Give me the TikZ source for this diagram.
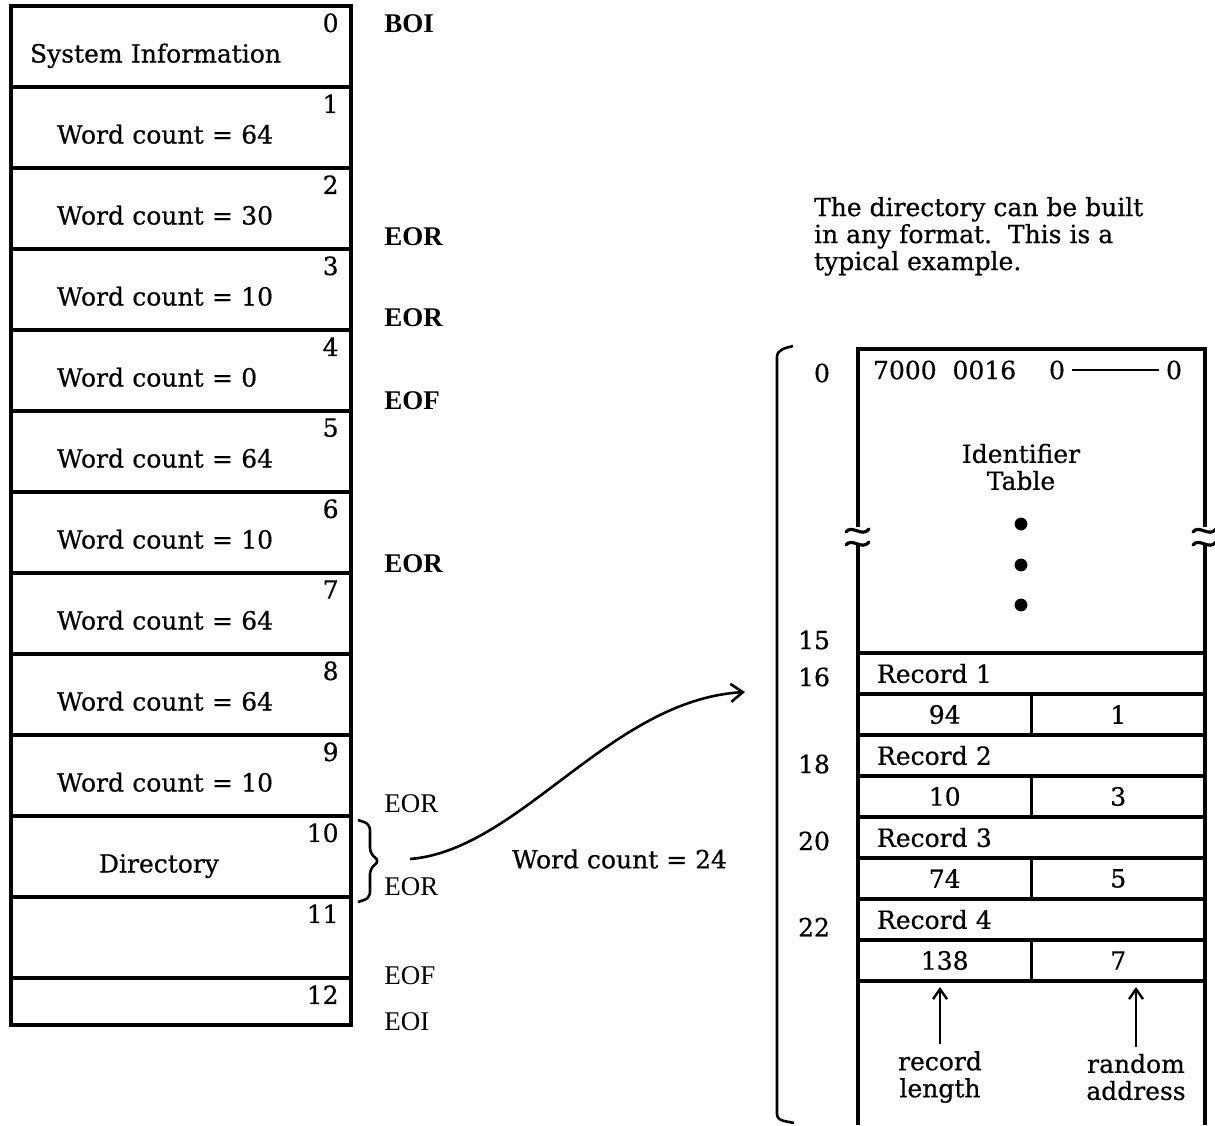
\documentclass[tikz,border=0pt]{standalone}
\usepackage{fontspec}
\setmainfont[FakeBold=0.6]{DejaVu Serif}
\newfontfamily\tagfont{Liberation Serif}
\usetikzlibrary{arrows.meta, positioning}

\begin{document}
\begin{tikzpicture}[
            x=0.5pt, y=-0.5pt,
            font=\fontsize{12.5}{13.5}\selectfont,
            cell/.style    ={rectangle, draw, line width=1.8pt, outer sep=0pt, minimum width=170pt,
                             minimum height=40.5pt, text width=124pt, inner xsep=23pt, align=left,
                             text height=16pt, text depth=0pt},
            num/.style     ={anchor=north east, inner xsep=6pt, inner ysep=3.5pt},
            tag/.style     ={anchor=west, inner sep=0pt, font={\fontsize{13.5}{14}\tagfont\bfseries}},
            tagthin/.style ={anchor=west, inner sep=0pt, font={\fontsize{13.5}{14}\tagfont}},
            recrow/.style  ={rectangle, draw, line width=1.8pt, outer sep=0pt, minimum height=20.5pt,
                             text width=154.5pt, inner xsep=9.5pt, inner ysep=0pt, align=left},
            valcell/.style ={rectangle, draw, line width=1.8pt, outer sep=0pt, minimum width=86.75pt,
                             minimum height=20.5pt, inner ysep=0pt},
            frame/.style   ={line width=1.8pt},
            brk/.style     ={line width=1.6pt, line cap=round},
            curvearr/.style={-{Straight Barb[length=6pt, width=9pt]}, line width=1.3pt},
            uparr/.style   ={-{Straight Barb[length=5pt, width=7pt]}, line width=1.2pt, shorten >=3pt}
        ]
            \useasboundingbox (0,0) rectangle (1215,1125);

            % --- Left column: the records of the file ---
            \node[cell, anchor=north west, text width=151pt, inner xsep=9.5pt,
                  label={[num]north east:0}] (c0) at (11,6) {System Information};
            \node[cell, below=0pt of c0,  label={[num]north east:1}]  (c1)  {Word count = 64};
            \node[cell, below=0pt of c1,  label={[num]north east:2}]  (c2)  {Word count = 30};
            \node[cell, below=0pt of c2,  label={[num]north east:3}]  (c3)  {Word count = 10};
            \node[cell, below=0pt of c3,  label={[num]north east:4}]  (c4)  {Word count = 0};
            \node[cell, below=0pt of c4,  label={[num]north east:5}]  (c5)  {Word count = 64};
            \node[cell, below=0pt of c5,  label={[num]north east:6}]  (c6)  {Word count = 10};
            \node[cell, below=0pt of c6,  label={[num]north east:7}]  (c7)  {Word count = 64};
            \node[cell, below=0pt of c7,  label={[num]north east:8}]  (c8)  {Word count = 64};
            \node[cell, below=0pt of c8,  label={[num]north east:9}]  (c9)  {Word count = 10};
            \node[cell, below=0pt of c9,  text width=82pt, inner xsep=44pt,
                  label={[num]north east:10}] (c10) {Directory};
            \node[cell, below=0pt of c10, label={[num]north east:11}] (c11) {};
            \node[cell, below=0pt of c11, minimum height=23.5pt,
                  label={[num]north east:12}] (c12) {};

            % --- Marks right of the column ---
            \node[tag]     (boi)  at (384,24)   {BOI};
            \node[tag]     (eor1) at (384,237)  {EOR};
            \node[tag]     (eor2) at (384,318)  {EOR};
            \node[tag]     (eof1) at (384,401)  {EOF};
            \node[tag]     (eor3) at (384,564)  {EOR};
            \node[tagthin] (eor4) at (384,804)  {EOR};
            \node[tagthin] (eor5) at (384,887)  {EOR};
            \node[tagthin] (eof2) at (384,976)  {EOF};
            \node[tagthin] (eoi)  at (384,1022) {EOI};

            % --- Brace on the directory record and the curve to the table ---
            \draw[line width=1.3pt, rounded corners=3pt]
                ([xshift=3.5pt, yshift=-2pt]c10.north east) -- ++(6pt,-2pt) -- ++(0,-15pt)
                -- ++(5pt,-3.5pt) -- ++(-5pt,-3.5pt) -- ++(0,-15pt) -- ++(-6pt,-2pt);
            \coordinate (dirtip) at (410,859);
            \coordinate (rectarget) at (745,692);
            \draw[curvearr] (dirtip) .. controls (520,850) and (610,700) .. (rectarget);
            \node[anchor=west] (wc24) at (505,859) {Word count = 24};

            % --- Note ---
            \node[anchor=north west, align=left] (note) at (807,190)
                {The directory can be built\\in any format.\ \ This is a\\typical example.};

            % --- Right column: the directory ---
            \node[rectangle, draw, frame, outer sep=0pt, minimum width=173.5pt,
                  minimum height=152pt, anchor=north west] (idtab) at (858,349) {};
            \node[recrow, below=0pt of idtab] (rec1) {Record 1};
            \node[valcell, anchor=north west] (v1l) at (rec1.south west) {94};
            \node[valcell, right=0pt of v1l]  (v1r) {1};
            \node[recrow, anchor=north west]  (rec2) at (v1l.south west) {Record 2};
            \node[valcell, anchor=north west] (v2l) at (rec2.south west) {10};
            \node[valcell, right=0pt of v2l]  (v2r) {3};
            \node[recrow, anchor=north west]  (rec3) at (v2l.south west) {Record 3};
            \node[valcell, anchor=north west] (v3l) at (rec3.south west) {74};
            \node[valcell, right=0pt of v3l]  (v3r) {5};
            \node[recrow, anchor=north west]  (rec4) at (v3l.south west) {Record 4};
            \node[valcell, anchor=north west] (v4l) at (rec4.south west) {138};
            \node[valcell, right=0pt of v4l]  (v4r) {7};

            \coordinate (floor) at (0,1125);
            \draw[frame] (v4l.south west) -- (v4l.south west |- floor);
            \draw[frame] (v4r.south east) -- (v4r.south east |- floor);

            % contents of the identifier table
            \node[anchor=west] (hdr) at (866,370) {7000\ \ 0016};
            \node (zl) at (1057,370) {0};
            \node (zr) at (1174,370) {0};
            \draw[line width=1.2pt] (zl) -- (zr);
            \node[align=center] (idtitle) at (1021,467) {Identifier\\Table};
            \fill (1021,524) circle (3.2pt);
            \fill (1021,565) circle (3.2pt);
            \fill (1021,605) circle (3.2pt);

            % break marks
            \fill[white] (850,527) rectangle (868,545);
            \draw[brk] (846,532) .. controls (852,524) and (862,538) .. (869,529);
            \draw[brk] (846,545) .. controls (852,537) and (862,551) .. (869,542);
            \fill[white] (1197,527) rectangle (1215,545);
            \draw[brk] (1193,532) .. controls (1199,524) and (1209,538) .. (1216,529);
            \draw[brk] (1193,545) .. controls (1199,537) and (1209,551) .. (1216,542);

            % word numbers
            \node[anchor=east] (n0)  at (837,373) {0};
            \node[anchor=east] (n15) at (837,640) {15};
            \node[anchor=east] (n16) at (837,677) {16};
            \node[anchor=east] (n18) at (837,764) {18};
            \node[anchor=east] (n20) at (837,841) {20};
            \node[anchor=east] (n22) at (837,927) {22};

            % bracket
            \draw[line width=1.3pt] (793,346) to[out=195, in=90] (777,357) -- (777,1114)
                to[out=-90, in=165] (794,1123);

            % field names
            \node[align=center] (rlen)  at (940,1077)  {record\\length};
            \node[align=center] (raddr) at (1136,1077) {random\\address};
            \draw[uparr] (rlen.north)  -- (rlen.north |- v4l.south);
            \draw[uparr] (raddr.north) -- (raddr.north |- v4r.south);

        \end{tikzpicture}
\end{document}
